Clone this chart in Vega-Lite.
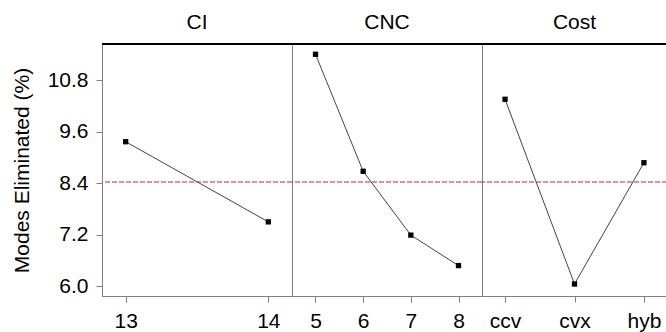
{
  "$schema": "https://vega.github.io/schema/vega-lite/v6.json",
  "padding": {"left": 10, "top": 11, "right": 0, "bottom": 0},
  "autosize": {"type": "pad"},
  "background": "#ffffff",
  "spacing": 0,
  "bounds": "flush",
  "config": {
    "font": "Liberation Sans",
    "view": {"stroke": null},
    "axis": {
      "labelFont": "Liberation Sans", "labelFontSize": 21, "labelColor": "#000000",
      "domainColor": "#808080", "tickColor": "#808080", "grid": false,
      "titleFont": "Liberation Sans", "titleFontSize": 21, "titleFontWeight": "normal", "titleColor": "#000000",
      "tickSize": 6, "labelPadding": 8
    },
    "title": {"font": "Liberation Sans", "fontSize": 21, "fontWeight": "normal", "color": "#000000", "anchor": "middle", "offset": 10},
    "concat": {"spacing": 0}
  },
  "datasets": {
    "effects": [
      {"factor": "CI", "level": "13", "mean": 9.37},
      {"factor": "CI", "level": "14", "mean": 7.50},
      {"factor": "CNC", "level": "5", "mean": 11.41},
      {"factor": "CNC", "level": "6", "mean": 8.68},
      {"factor": "CNC", "level": "7", "mean": 7.19},
      {"factor": "CNC", "level": "8", "mean": 6.48},
      {"factor": "Cost", "level": "ccv", "mean": 10.36},
      {"factor": "Cost", "level": "cvx", "mean": 6.05},
      {"factor": "Cost", "level": "hyb", "mean": 8.88}
    ],
    "overall": [{"grand_mean": 8.43}]
  },
  "resolve": {"scale": {"x": "independent", "y": "independent"}},
  "hconcat": [
    {
      "title": "CI",
      "width": 190, "height": 252,
      "view": {"stroke": "#808080"},
      "layer": [
        {
          "data": {"name": "effects"},
          "transform": [{"filter": "datum.factor === 'CI'"}],
          "mark": {"type": "line", "color": "#444444", "strokeWidth": 1},
          "encoding": {
            "x": {"field": "level", "type": "ordinal", "scale": {"padding": 0.166}, "axis": {"title": null, "labelAngle": 0}},
            "y": {"field": "mean", "type": "quantitative", "scale": {"domain": [5.77, 11.65], "nice": false, "zero": false}, "axis": {"title": "Modes Eliminated (%)", "values": [6.0, 7.2, 8.4, 9.6, 10.8], "format": ".1f", "titlePadding": 15}}
          }
        },
        {
          "data": {"name": "effects"},
          "transform": [{"filter": "datum.factor === 'CI'"}],
          "mark": {"type": "point", "shape": "square", "filled": true, "color": "#000000", "size": 28, "opacity": 1},
          "encoding": {
            "x": {"field": "level", "type": "ordinal"},
            "y": {"field": "mean", "type": "quantitative", "title": "Modes Eliminated (%)"}
          }
        },
        {
          "data": {"name": "overall"},
          "mark": {"type": "rule", "color": "#dc1f2b", "strokeDash": [5, 2], "strokeWidth": 1.2},
          "encoding": {"y": {"field": "grand_mean", "type": "quantitative", "title": "Modes Eliminated (%)"}}
        },
        {
          "data": {"name": "overall"},
          "mark": {"type": "rule", "color": "#000000", "strokeWidth": 2},
          "encoding": {"y": {"datum": 11.65}}
        }
      ]
    },
    {
      "title": "CNC",
      "width": 190, "height": 252,
      "view": {"stroke": "#808080"},
      "layer": [
        {
          "data": {"name": "effects"},
          "transform": [{"filter": "datum.factor === 'CNC'"}],
          "mark": {"type": "line", "color": "#444444", "strokeWidth": 1},
          "encoding": {
            "x": {"field": "level", "type": "ordinal", "scale": {"padding": 0.493}, "axis": {"title": null, "labelAngle": 0}},
            "y": {"field": "mean", "type": "quantitative", "scale": {"domain": [5.77, 11.65], "nice": false, "zero": false}, "axis": null}
          }
        },
        {
          "data": {"name": "effects"},
          "transform": [{"filter": "datum.factor === 'CNC'"}],
          "mark": {"type": "point", "shape": "square", "filled": true, "color": "#000000", "size": 28, "opacity": 1},
          "encoding": {
            "x": {"field": "level", "type": "ordinal"},
            "y": {"field": "mean", "type": "quantitative"}
          }
        },
        {
          "data": {"name": "overall"},
          "mark": {"type": "rule", "color": "#dc1f2b", "strokeDash": [5, 2], "strokeWidth": 1.2},
          "encoding": {"y": {"field": "grand_mean", "type": "quantitative"}}
        },
        {
          "data": {"name": "overall"},
          "mark": {"type": "rule", "color": "#000000", "strokeWidth": 2},
          "encoding": {"y": {"datum": 11.65}}
        }
      ]
    },
    {
      "title": "Cost",
      "width": 185, "height": 252,
      "layer": [
        {
          "data": {"name": "effects"},
          "transform": [{"filter": "datum.factor === 'Cost'"}],
          "mark": {"type": "line", "color": "#444444", "strokeWidth": 1},
          "encoding": {
            "x": {"field": "level", "type": "ordinal", "scale": {"padding": 0.332}, "axis": {"title": null, "labelAngle": 0}},
            "y": {"field": "mean", "type": "quantitative", "scale": {"domain": [5.77, 11.65], "nice": false, "zero": false}, "axis": null}
          }
        },
        {
          "data": {"name": "effects"},
          "transform": [{"filter": "datum.factor === 'Cost'"}],
          "mark": {"type": "point", "shape": "square", "filled": true, "color": "#000000", "size": 28, "opacity": 1},
          "encoding": {
            "x": {"field": "level", "type": "ordinal"},
            "y": {"field": "mean", "type": "quantitative"}
          }
        },
        {
          "data": {"name": "overall"},
          "mark": {"type": "rule", "color": "#dc1f2b", "strokeDash": [5, 2], "strokeWidth": 1.2},
          "encoding": {"y": {"field": "grand_mean", "type": "quantitative"}}
        },
        {
          "data": {"name": "overall"},
          "mark": {"type": "rule", "color": "#000000", "strokeWidth": 2},
          "encoding": {"y": {"datum": 11.65}}
        }
      ]
    }
  ]
}
